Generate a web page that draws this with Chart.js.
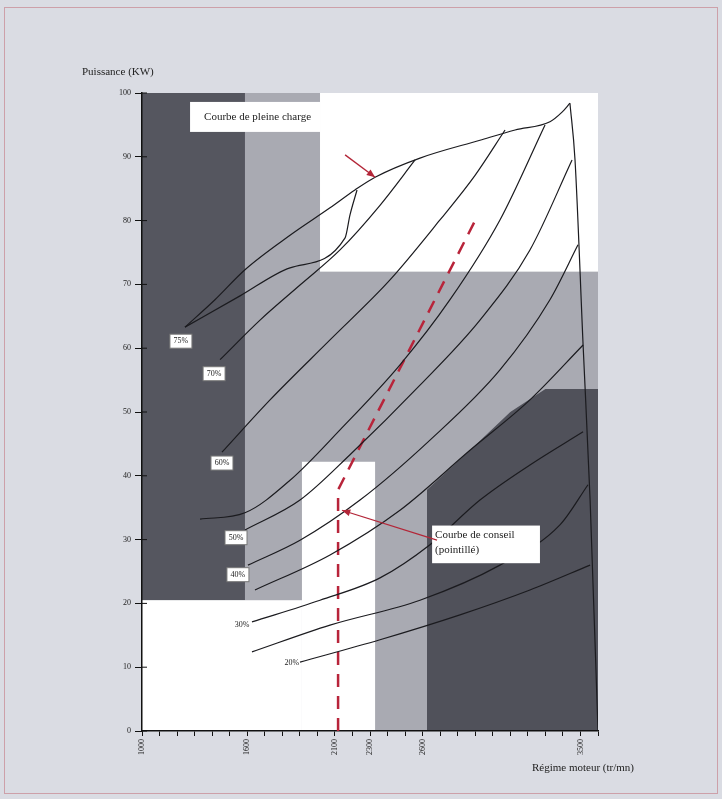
<!DOCTYPE html>
<html>
<head>
<meta charset="utf-8">
<script src="https://cdn.jsdelivr.net/npm/chart.js@4.4.1/dist/chart.umd.min.js"></script>
<style>
  html, body { margin: 0; padding: 0; background: #dadce3; }
  canvas { display: block; }
</style>
</head>
<body>
<canvas id="chart" width="722" height="799"></canvas>
<script>
// graduations
const rpmLabels = [1000, 1600, 2100, 2300, 2600, 3500];
const kwTicks = [0, 10, 20, 30, 40, 50, 60, 70, 80, 90, 100];

// courbe de pleine charge (tr/mn, kW)
const fullLoadRpm = [1245, 1416, 1587, 1844, 2072, 2214, 2329, 2585, 2927, 3127, 3326, 3395, 3440];
const fullLoadKw  = [63.3, 67.6, 72.3, 77.7, 82.0, 84.8, 86.8, 89.8, 92.6, 94.2, 95.5, 97.0, 98.4];
// zone de régulation
const governorRpm = [3440, 3469, 3515, 3555, 3600];
const governorKw  = [98.4, 89.5, 60.5, 36.2, 0];

// courbes de charge partielle
const rpmB = [1245, 1559, 1844, 2158, 2186, 2226];
const kwB  = [63.3, 68.2, 72.6, 77.3, 80.9, 84.8];
const rpmC = [1445, 1673, 1901, 2129, 2357, 2557];
const kwC  = [58.2, 64.4, 69.9, 75.4, 82.4, 89.5];
const rpmD = [1456, 1730, 2072, 2414, 2699, 2899, 3070];
const kwD  = [43.7, 51.9, 61.3, 70.7, 80.1, 87.1, 94.2];
const rpmE = [1331, 1587, 1844, 2129, 2471, 2756, 3041, 3298];
const kwE  = [33.2, 34.2, 39.3, 47.2, 57.4, 67.6, 80.1, 95.0];
const rpmF = [1587, 1901, 2186, 2585, 2927, 3212, 3452];
const kwF  = [31.5, 36.2, 43.3, 54.2, 64.4, 75.4, 89.5];
const rpmG = [1604, 1901, 2243, 2642, 3041, 3326, 3486];
const kwG  = [26.0, 29.9, 36.2, 45.6, 56.6, 67.6, 76.2];
const rpmH = [1644, 2072, 2471, 2870, 3212, 3515];
const kwH  = [22.1, 27.6, 34.6, 44.0, 51.9, 60.5];
const rpmI = [1627, 2015, 2357, 2642, 2927, 3212, 3515];
const kwI  = [17.1, 20.5, 24.0, 29.2, 36.2, 41.7, 46.9];
const rpmJ = [1627, 2072, 2585, 3041, 3383, 3543];
const kwJ  = [12.4, 16.6, 20.5, 26.0, 32.3, 38.6];
const rpmK = [1901, 2357, 2813, 3212, 3555];
const kwK  = [10.8, 14.3, 18.2, 22.1, 26.0];

// courbe de conseil (pointillé)
const adviceRpm = [2118, 2118, 2916];
const adviceKw  = [0, 37.8, 80.9];

// étiquettes des courbes
const labelText = ['75%', '70%', '60%', '50%', '40%', '30%', '20%'];
const labelRpm  = [1222, 1411, 1456, 1536, 1547, 1570, 1855];
const labelKw   = [61.1, 56.0, 42.0, 30.3, 24.5, 16.6, 10.7];
const labelBoxed = [true, true, true, true, true, false, false];

// zones grisées [rpm min, rpm max, kW min, kW max]
const darkZone   = [1000, 1587, 20.5, 100];
const whiteTop   = [2015, 3600, 72, 100];
const whiteLow   = [1000, 1912, 0, 20.5];
const whiteTall  = [1912, 2329, 0, 42.2];
const darkRightRpm = [2625, 2625, 2870, 3100, 3300, 3600, 3600];
const darkRightKw  = [0, 37.8, 44, 50, 53.6, 53.6, 0];

const pts = (xs, ys) => xs.map((x, i) => ({ x: x, y: ys[i] }));

const blackLine = (xs, ys) => ({
  data: pts(xs, ys),
  borderColor: '#1b1b1f',
  borderWidth: 1.2,
  pointRadius: 0,
  cubicInterpolationMode: 'monotone',
  fill: false
});

// fonds, boîtes de texte et flèches
const decor = {
  id: 'decor',
  beforeDraw(chart) {
    const { ctx, chartArea: a, scales: { x, y } } = chart;
    ctx.save();
    ctx.fillStyle = '#dadce3';
    ctx.fillRect(0, 0, chart.width, chart.height);
    ctx.strokeStyle = 'rgba(196,120,130,0.6)';
    ctx.lineWidth = 1;
    ctx.strokeRect(4.5, 7.5, 713, 786);

    ctx.fillStyle = '#a9aab2';
    ctx.fillRect(a.left, a.top, a.right - a.left, a.bottom - a.top);

    const rect = (z, color) => {
      const x0 = x.getPixelForValue(z[0]), x1 = x.getPixelForValue(z[1]);
      const y0 = y.getPixelForValue(z[3]), y1 = y.getPixelForValue(z[2]);
      ctx.fillStyle = color;
      ctx.fillRect(x0, y0, x1 - x0, y1 - y0);
    };
    rect(darkZone, '#55565f');
    rect(whiteTop, '#ffffff');
    rect(whiteLow, '#ffffff');
    rect(whiteTall, '#ffffff');

    ctx.fillStyle = '#50515a';
    ctx.beginPath();
    darkRightRpm.forEach((r, i) => {
      const px = x.getPixelForValue(r), py = y.getPixelForValue(darkRightKw[i]);
      if (i === 0) ctx.moveTo(px, py); else ctx.lineTo(px, py);
    });
    ctx.closePath();
    ctx.fill();
    ctx.restore();
  },
  afterDatasetsDraw(chart) {
    const { ctx, scales: { x, y } } = chart;
    ctx.save();

    // petites graduations qui traversent l'axe
    ctx.strokeStyle = '#111';
    ctx.lineWidth = 1;
    kwTicks.forEach(v => {
      const py = y.getPixelForValue(v);
      ctx.beginPath();
      ctx.moveTo(chart.chartArea.left, py);
      ctx.lineTo(chart.chartArea.left + 5, py);
      ctx.stroke();
    });

    // boîte "Courbe de pleine charge"
    const bx0 = x.getPixelForValue(1274), bx1 = x.getPixelForValue(2015);
    const by0 = y.getPixelForValue(98.6), by1 = y.getPixelForValue(93.9);
    ctx.fillStyle = '#ffffff';
    ctx.fillRect(bx0, by0, bx1 - bx0, by1 - by0);
    ctx.fillStyle = '#222';
    ctx.font = '11px "Liberation Serif", serif';
    ctx.textBaseline = 'middle';
    ctx.textAlign = 'left';
    ctx.fillText('Courbe de pleine charge', bx0 + 14, (by0 + by1) / 2);

    // boîte "Courbe de conseil"
    const cx0 = x.getPixelForValue(2654), cx1 = x.getPixelForValue(3269);
    const cy0 = y.getPixelForValue(32.2), cy1 = y.getPixelForValue(26.3);
    ctx.fillStyle = '#ffffff';
    ctx.fillRect(cx0, cy0, cx1 - cx0, cy1 - cy0);
    ctx.fillStyle = '#222';
    ctx.fillText('Courbe de conseil', cx0 + 3, cy0 + 10);
    ctx.fillText('(pointillé)', cx0 + 3, cy0 + 25);

    // étiquettes des courbes
    ctx.font = '8px "Liberation Serif", serif';
    ctx.textAlign = 'center';
    labelText.forEach((t, i) => {
      const px = x.getPixelForValue(labelRpm[i]), py = y.getPixelForValue(labelKw[i]);
      if (labelBoxed[i]) {
        ctx.fillStyle = '#ffffff';
        ctx.fillRect(px - 11, py - 7, 22, 14);
        ctx.strokeStyle = '#777';
        ctx.strokeRect(px - 11, py - 7, 22, 14);
      }
      ctx.fillStyle = '#222';
      ctx.fillText(t, px, py);
    });

    // flèches rouges
    const arrow = (r0, k0, r1, k1) => {
      const x0 = x.getPixelForValue(r0), y0 = y.getPixelForValue(k0);
      const x1 = x.getPixelForValue(r1), y1 = y.getPixelForValue(k1);
      const ang = Math.atan2(y1 - y0, x1 - x0);
      ctx.strokeStyle = '#b32638';
      ctx.fillStyle = '#b32638';
      ctx.lineWidth = 1.3;
      ctx.beginPath();
      ctx.moveTo(x0, y0);
      ctx.lineTo(x1, y1);
      ctx.stroke();
      ctx.beginPath();
      ctx.moveTo(x1, y1);
      ctx.lineTo(x1 - 9 * Math.cos(ang - 0.4), y1 - 9 * Math.sin(ang - 0.4));
      ctx.lineTo(x1 - 9 * Math.cos(ang + 0.4), y1 - 9 * Math.sin(ang + 0.4));
      ctx.closePath();
      ctx.fill();
    };
    arrow(2158, 90.3, 2329, 86.8);
    arrow(2682, 29.9, 2140, 34.6);

    ctx.restore();
  },
  afterDraw(chart) {
    const { ctx } = chart;
    ctx.save();
    ctx.fillStyle = '#222';
    ctx.font = '11px "Liberation Serif", serif';
    ctx.textBaseline = 'middle';
    ctx.textAlign = 'left';
    ctx.fillText('Puissance (KW)', 82, 72);
    ctx.textAlign = 'right';
    ctx.fillText('Régime moteur (tr/mn)', 634, 768);
    ctx.restore();
  }
};

Chart.defaults.font.family = '"Liberation Serif", serif';
Chart.defaults.color = '#222';

new Chart(document.getElementById('chart'), {
  type: 'scatter',
  data: {
    datasets: [
      blackLine(fullLoadRpm, fullLoadKw),
      blackLine(governorRpm, governorKw),
      blackLine(rpmB, kwB),
      blackLine(rpmC, kwC),
      blackLine(rpmD, kwD),
      blackLine(rpmE, kwE),
      blackLine(rpmF, kwF),
      blackLine(rpmG, kwG),
      blackLine(rpmH, kwH),
      blackLine(rpmI, kwI),
      blackLine(rpmJ, kwJ),
      blackLine(rpmK, kwK),
      {
        data: pts(adviceRpm, adviceKw),
        borderColor: '#b8243a',
        borderWidth: 2.5,
        borderDash: [13, 9],
        pointRadius: 0,
        tension: 0,
        fill: false
      }
    ]
  },
  options: {
    responsive: false,
    animation: false,
    devicePixelRatio: 1,
    showLine: true,
    layout: { padding: { top: 93, right: 124, bottom: 0, left: 0 } },
    plugins: {
      legend: { display: false },
      tooltip: { enabled: false }
    },
    scales: {
      x: {
        type: 'linear',
        min: 1000,
        max: 3600,
        afterFit: s => { s.height = 68; },
        border: { color: '#111', width: 1.5 },
        grid: { drawOnChartArea: false, tickLength: 5, color: '#111' },
        ticks: {
          stepSize: 100,
          autoSkip: false,
          minRotation: 90,
          maxRotation: 90,
          font: { size: 8 },
          callback: v => rpmLabels.includes(v) ? String(v) : ''
        }
      },
      y: {
        min: 0,
        max: 100,
        afterFit: s => { s.width = 142; },
        border: { color: '#111', width: 1.5 },
        grid: { drawOnChartArea: false, tickLength: 7, color: '#111' },
        ticks: { stepSize: 10, padding: 4, font: { size: 8 } }
      }
    }
  },
  plugins: [decor]
});
</script>
</body>
</html>
